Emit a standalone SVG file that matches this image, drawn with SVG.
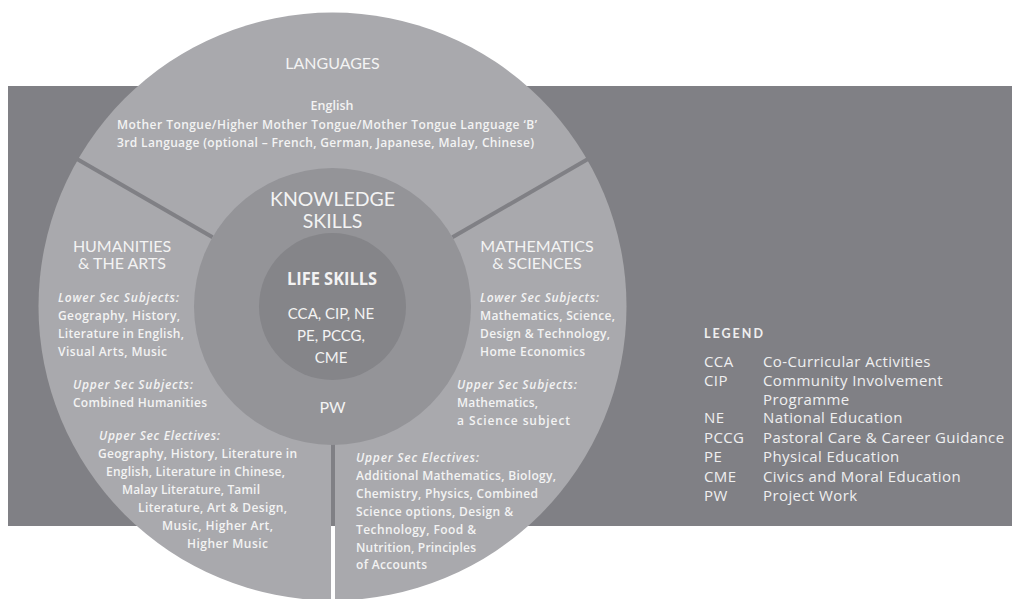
<svg xmlns="http://www.w3.org/2000/svg" width="1012" height="599" viewBox="0 0 1012 599">
<style>
.head{font-family:Lato,"Open Sans",sans-serif;font-size:16px;fill:#f3f3f3;text-anchor:middle}
.body{font-family:"Open Sans","Noto Sans",sans-serif;font-weight:600;font-size:12px;fill:#f3f3f3}
.it{font-style:italic}
.ctr{text-anchor:middle}
.leg{font-family:"Open Sans","Noto Sans",sans-serif;font-size:15px;letter-spacing:0.4px;fill:#efeff0}
.legh{font-family:Lato,"Open Sans",sans-serif;font-weight:700;font-size:12.5px;letter-spacing:2px;fill:#efeff0}
.div{stroke:#808085;stroke-width:4;fill:none}
</style>
<rect width="1012" height="599" fill="#ffffff"/>
<g id="band"><rect x="8" y="86" width="1004" height="440" fill="#808085"/></g>
<g id="outer-ring"><circle cx="332.5" cy="306.5" r="294" fill="#a9a9ad"/></g>
<g id="connectors">
<line class="div" x1="212.6" y1="237.3" x2="77" y2="159"/>
<line class="div" x1="452.4" y1="237.3" x2="588" y2="159"/>
<line class="div" x1="333" y1="440" x2="333" y2="526"/>
<line x1="333" y1="526" x2="333" y2="599" stroke="#ffffff" stroke-width="4"/>
</g>
<g id="languages">
<text class="head" x="332.5" y="69">LANGUAGES</text>
<text class="body ctr" x="332" y="110" style="font-size:12.5px">English</text>
<text class="body" x="117" y="128.5" textLength="420">Mother Tongue/Higher Mother Tongue/Mother Tongue Language ‘B’</text>
<text class="body" x="117" y="147" textLength="417">3rd Language (optional – French, German, Japanese, Malay, Chinese)</text>
</g>
<g id="humanities">
<text class="head" x="122" y="252">HUMANITIES</text>
<text class="head" x="122" y="269">&amp; THE ARTS</text>
<text class="body it" x="58" y="302" textLength="121">Lower Sec Subjects:</text>
<text class="body" x="58" y="320" textLength="122">Geography, History,</text>
<text class="body" x="58" y="338" textLength="126">Literature in English,</text>
<text class="body" x="58" y="356" textLength="109">Visual Arts, Music</text>
<text class="body it" x="73" y="389" textLength="120">Upper Sec Subjects:</text>
<text class="body" x="73" y="407" textLength="134">Combined Humanities</text>
<text class="body it" x="99" y="439.5" textLength="121">Upper Sec Electives:</text>
<text class="body" x="98" y="457.5" textLength="199">Geography, History, Literature in</text>
<text class="body" x="106" y="475.5" textLength="179">English, Literature in Chinese,</text>
<text class="body" x="122" y="493.5" textLength="138">Malay Literature, Tamil</text>
<text class="body" x="138" y="511.5" textLength="149">Literature, Art &amp; Design,</text>
<text class="body" x="162" y="529.5" textLength="111">Music, Higher Art,</text>
<text class="body" x="187" y="547.5" textLength="81">Higher Music</text>
</g>
<g id="mathematics">
<text class="head" x="537" y="252">MATHEMATICS</text>
<text class="head" x="537" y="269">&amp; SCIENCES</text>
<text class="body it" x="480" y="302" textLength="119">Lower Sec Subjects:</text>
<text class="body" x="480" y="320" textLength="135">Mathematics, Science,</text>
<text class="body" x="480" y="338" textLength="130">Design &amp; Technology,</text>
<text class="body" x="480" y="356" textLength="105">Home Economics</text>
<text class="body it" x="457" y="389" textLength="120">Upper Sec Subjects:</text>
<text class="body" x="457" y="407" textLength="81">Mathematics,</text>
<text class="body" x="457" y="425" textLength="113">a Science subject</text>
<text class="body it" x="356" y="462" textLength="123">Upper Sec Electives:</text>
<text class="body" x="356" y="480" textLength="200">Additional Mathematics, Biology,</text>
<text class="body" x="356" y="498" textLength="182">Chemistry, Physics, Combined</text>
<text class="body" x="356" y="515.5" textLength="157">Science options, Design &amp;</text>
<text class="body" x="356" y="533.5" textLength="120">Technology, Food &amp;</text>
<text class="body" x="356" y="551.5" textLength="120">Nutrition, Principles</text>
<text class="body" x="356" y="569" textLength="71">of Accounts</text>
</g>
<g id="knowledge-skills">
<circle cx="332.5" cy="306.5" r="138.5" fill="#949498"/>
<text class="head" x="332.5" y="206" style="font-size:19.5px">KNOWLEDGE</text>
<text class="head" x="332.5" y="228" style="font-size:19.5px">SKILLS</text>
<text class="head" x="332.5" y="413">PW</text>
</g>
<g id="life-skills">
<circle cx="332.5" cy="306.5" r="73.5" fill="#858589"/>
<text x="287" y="285" textLength="90" lengthAdjust="spacingAndGlyphs" style="font-family:'Open Sans',sans-serif;font-weight:700;font-size:18px;fill:#f3f3f3">LIFE SKILLS</text>
<text class="head" x="331" y="319" style="font-size:15px">CCA, CIP, NE</text>
<text class="head" x="331" y="341" style="font-size:15px">PE, PCCG,</text>
<text class="head" x="331" y="363" style="font-size:15px">CME</text>
</g>
<g id="legend">
<text class="legh" x="704" y="338">LEGEND</text>
<text class="leg" x="704" y="367">CCA</text><text class="leg" x="763" y="367">Co-Curricular Activities</text>
<text class="leg" x="704" y="386">CIP</text><text class="leg" x="763" y="386">Community Involvement</text>
<text class="leg" x="763" y="404.5">Programme</text>
<text class="leg" x="704" y="423">NE</text><text class="leg" x="763" y="423">National Education</text>
<text class="leg" x="704" y="442.5">PCCG</text><text class="leg" x="763" y="442.5">Pastoral Care &amp; Career Guidance</text>
<text class="leg" x="704" y="462">PE</text><text class="leg" x="763" y="462">Physical Education</text>
<text class="leg" x="704" y="481.5">CME</text><text class="leg" x="763" y="481.5">Civics and Moral Education</text>
<text class="leg" x="704" y="501">PW</text><text class="leg" x="763" y="501">Project Work</text>
</g>
</svg>
